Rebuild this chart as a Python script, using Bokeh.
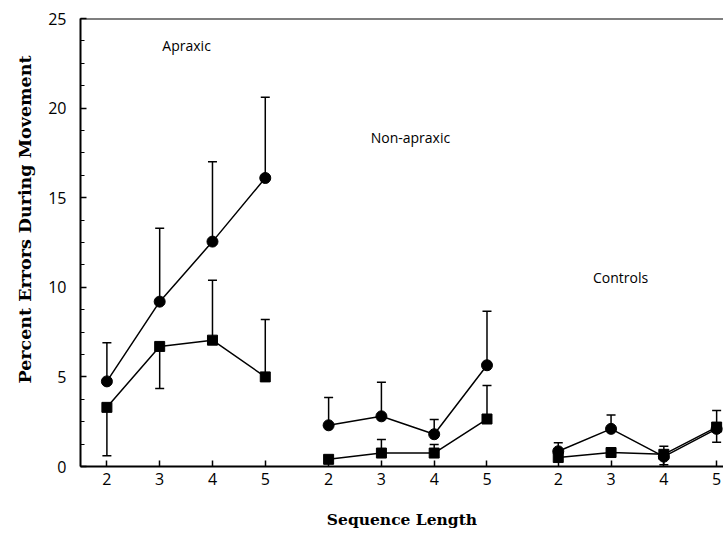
from bokeh.plotting import figure
from bokeh.models import (ColumnDataSource, Whisker, TeeHead, FixedTicker, Span, Label, Title)
from bokeh.embed import file_html
from bokeh.resources import INLINE

# ---- data ----
groups = ["Apraxic", "Non-apraxic", "Controls"]
seq_len = [2, 3, 4, 5]

circle_mean = {
    "Apraxic":     [4.75, 9.2, 12.55, 16.1],
    "Non-apraxic": [2.3, 2.8, 1.8, 5.65],
    "Controls":    [0.85, 2.1, 0.55, 2.1],
}
circle_sd = {
    "Apraxic":     [2.15, 4.1, 4.45, 4.5],
    "Non-apraxic": [1.55, 1.9, 0.82, 3.02],
    "Controls":    [0.47, 0.78, 0.58, 1.02],
}
square_mean = {
    "Apraxic":     [3.3, 6.7, 7.05, 5.0],
    "Non-apraxic": [0.4, 0.75, 0.75, 2.65],
    "Controls":    [0.5, 0.78, 0.68, 2.2],
}
square_sd = {
    "Apraxic":     [2.7, 2.35, 3.35, 3.2],
    "Non-apraxic": [0.0, 0.75, 0.48, 1.87],
    "Controls":    [0.0, 0.0, 0.58, 0.84],
}
# +1 = bar drawn upward, -1 = bar drawn downward
square_dir = {
    "Apraxic":     [-1, -1, 1, 1],
    "Non-apraxic": [1, 1, 1, 1],
    "Controls":    [1, 1, -1, -1],
}
x_title = "Sequence Length"
y_title = "Percent Errors During Movement"

# layout: x offset of each group on the continuous axis
group_offset = [-1.0, 3.2, 7.55]
label_pos = [(2.51, 23.5), (6.75, 18.35), (10.73, 10.55)]

p = figure(width=723, height=534, output_backend="svg", toolbar_location=None,
           x_range=(0.5, 12.68), y_range=(0, 25),
           min_border_left=80, min_border_right=0, min_border_top=18,
           min_border_bottom=68)
p.outline_line_color = None
p.grid.visible = False
p.background_fill_color = "white"

tick_pos, overrides = [], {}
for g, off in zip(groups, group_offset):
    xs = [s + off for s in seq_len]
    for s, x in zip(seq_len, xs):
        tick_pos.append(x)
        overrides[x] = str(s)
    cm, cs = circle_mean[g], circle_sd[g]
    sm, ss, sd_ = square_mean[g], square_sd[g], square_dir[g]

    csrc = ColumnDataSource(dict(x=xs, lo=cm, hi=[m + e for m, e in zip(cm, cs)]))
    p.add_layout(Whisker(source=csrc, base="x", lower="lo", upper="hi",
                         line_width=1.5, line_color="black",
                         upper_head=TeeHead(size=9, line_width=1.5), lower_head=None))
    ux, ulo, uhi, dx, dlo, dhi = [], [], [], [], [], []
    for x, m, e, d in zip(xs, sm, ss, sd_):
        if e <= 0:
            continue
        if d > 0:
            ux.append(x); ulo.append(m); uhi.append(m + e)
        else:
            dx.append(x); dlo.append(m - e); dhi.append(m)
    if ux:
        p.add_layout(Whisker(source=ColumnDataSource(dict(x=ux, lo=ulo, hi=uhi)),
                             base="x", lower="lo", upper="hi", line_width=1.5,
                             line_color="black",
                             upper_head=TeeHead(size=9, line_width=1.5), lower_head=None))
    if dx:
        p.add_layout(Whisker(source=ColumnDataSource(dict(x=dx, lo=dlo, hi=dhi)),
                             base="x", lower="lo", upper="hi", line_width=1.5,
                             line_color="black",
                             lower_head=TeeHead(size=9, line_width=1.5), upper_head=None))

    p.line(xs, cm, line_color="black", line_width=1.5)
    p.line(xs, sm, line_color="black", line_width=1.5)
    p.scatter(xs, cm, marker="circle", size=11, fill_color="black", line_color="black")
    p.scatter(xs, sm, marker="square", size=10, fill_color="black", line_color="black")

for g, (lx, ly) in zip(groups, label_pos):
    p.add_layout(Label(x=lx, y=ly, text=g, text_align="center", text_baseline="middle",
                       text_font="Open Sans", text_font_size="14px", text_color="black"))

p.add_layout(Span(location=25, dimension="width", line_color="black", line_width=2))

# y-axis title as a left-side title, placed where the reference has it
p.add_layout(Title(text=y_title, align="left", offset=83, standoff=22,
                   text_font="DejaVu Serif", text_font_style="bold",
                   text_font_size="17.5px", text_color="black"), "left")

p.xaxis.ticker = FixedTicker(ticks=tick_pos)
p.xaxis.major_label_overrides = overrides
p.yaxis.ticker = FixedTicker(ticks=[0, 5, 10, 15, 20, 25],
                             minor_ticks=[i * 1.25 for i in range(21)])

for ax in (p.xaxis, p.yaxis):
    ax.axis_line_width = 2
    ax.axis_line_color = "black"
    ax.major_tick_in = 6
    ax.major_tick_out = 0
    ax.major_tick_line_width = 1.5
    ax.major_tick_line_color = "black"
    ax.major_label_text_font = "Open Sans"
    ax.major_label_text_font_size = "16px"
    ax.major_label_text_color = "black"
    ax.axis_label_text_font = "DejaVu Serif"
    ax.axis_label_text_font_style = "bold"
    ax.axis_label_text_font_size = "15.5px"
    ax.axis_label_text_color = "black"
p.xaxis.minor_tick_line_color = None
p.yaxis.minor_tick_in = 4
p.yaxis.minor_tick_out = 0
p.yaxis.minor_tick_line_color = "black"
p.xaxis.major_label_standoff = 6
p.yaxis.major_label_standoff = 14
p.xaxis.axis_label = x_title
p.xaxis.axis_label_standoff = 22

open("out.html", "w").write(file_html(p, INLINE))
